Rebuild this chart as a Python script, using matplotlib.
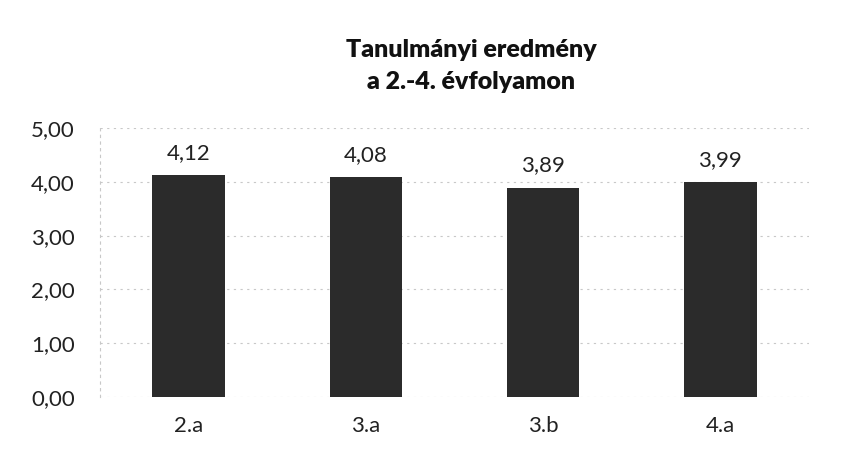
import matplotlib
matplotlib.use("Agg")
import matplotlib.pyplot as plt

categories = ["2.a", "3.a", "3.b", "4.a"]
values = [4.12, 4.08, 3.89, 3.99]
yticks = [0, 1, 2, 3, 4, 5]

plt.rcParams['font.family'] = ['Lato', 'DejaVu Sans']

fig = plt.figure(figsize=(8.54, 4.58), dpi=100)
ax = fig.add_axes([100/854, 1-397/458, (809-100)/854, (397-128)/458])

x = range(len(categories))
ax.bar(x, values, width=0.41, color="#2b2b2b", zorder=3)
for xi, v in zip(x, values):
    ax.annotate(f"{v:.2f}".replace(".", ","), (xi, v), xytext=(0, 9),
                textcoords="offset points", ha="center", va="bottom",
                fontsize=16, color="#222222")

ax.set_xlim(-0.5, len(categories) - 0.5)
ax.set_ylim(0, 5)
ax.set_yticks(yticks)
ax.set_yticklabels([f"{t:.2f}".replace(".", ",") for t in yticks], fontsize=16, color="#222222")
ax.set_xticks(list(x))
ax.set_xticklabels(categories, fontsize=16, color="#222222")
ax.tick_params(axis="y", length=0, pad=18)
ax.tick_params(axis="x", length=0, pad=14)
ax.grid(axis="y", color="#c8c8c8", linestyle=(0, (2, 4)), linewidth=0.8, zorder=0)
for s in ["top", "right", "bottom"]:
    ax.spines[s].set_visible(False)
ax.spines["left"].set_color("#c8c8c8")
ax.spines["left"].set_linestyle((0, (2, 4)))
ax.spines["left"].set_linewidth(0.8)

fig.text(471/854, 1-66/458, "Tanulmányi eredmény\na 2.-4. évfolyamon", ha="center", va="center",
         fontsize=18, fontweight="heavy", color="#111111", linespacing=1.6)

fig.savefig("out.png", dpi=100)
